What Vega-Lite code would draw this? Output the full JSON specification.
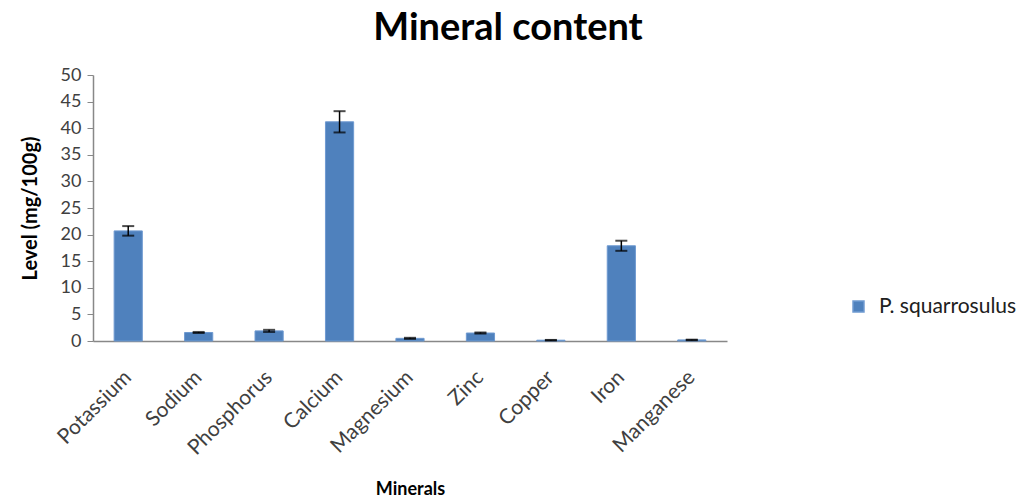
{
  "$schema": "https://vega.github.io/schema/vega-lite/v6.json",
  "autosize": {"type": "none"},
  "padding": {"left": 93, "top": 75, "right": 302, "bottom": 159},
  "width": 634,
  "height": 266,
  "background": "white",
  "config": {"font": "Lato", "view": {"stroke": null}},
  "title": {
    "text": "Mineral content",
    "fontSize": 38,
    "fontWeight": "bold",
    "font": "Lato",
    "color": "#000000",
    "anchor": "middle",
    "dx": 98,
    "offset": 18
  },
  "data": {
    "values": [
      {"mineral": "Potassium", "level": 20.7, "err": 0.9, "series": "P. squarrosulus"},
      {"mineral": "Sodium", "level": 1.6, "err": 0.1, "series": "P. squarrosulus"},
      {"mineral": "Phosphorus", "level": 1.9, "err": 0.2, "series": "P. squarrosulus"},
      {"mineral": "Calcium", "level": 41.2, "err": 2.0, "series": "P. squarrosulus"},
      {"mineral": "Magnesium", "level": 0.5, "err": 0.1, "series": "P. squarrosulus"},
      {"mineral": "Zinc", "level": 1.5, "err": 0.1, "series": "P. squarrosulus"},
      {"mineral": "Copper", "level": 0.15, "err": 0.05, "series": "P. squarrosulus"},
      {"mineral": "Iron", "level": 17.9, "err": 0.95, "series": "P. squarrosulus"},
      {"mineral": "Manganese", "level": 0.2, "err": 0.05, "series": "P. squarrosulus"}
    ]
  },
  "encoding": {
    "x": {
      "field": "mineral",
      "type": "nominal",
      "sort": null,
      "scale": {"paddingInner": 0.6, "paddingOuter": 0.3},
      "axis": {
        "title": "Minerals",
        "titleFontSize": 18,
        "titleFontWeight": "bold",
        "titleColor": "#000000",
        "titlePadding": 22,
        "labelAngle": -45,
        "labelAlign": "right",
        "labelBaseline": "middle",
        "labelFontSize": 21,
        "labelColor": "#404040",
        "labelPadding": 33,
        "ticks": false,
        "domainColor": "#888888",
        "domainWidth": 1.5
      }
    },
    "y": {
      "field": "level",
      "type": "quantitative",
      "scale": {"domain": [0, 50], "nice": false},
      "axis": {
        "title": "Level (mg/100g)",
        "titleFontSize": 20,
        "titleFontWeight": "bold",
        "titleColor": "#000000",
        "titlePadding": 20,
        "values": [0, 5, 10, 15, 20, 25, 30, 35, 40, 45, 50],
        "grid": false,
        "labelFontSize": 18,
        "labelColor": "#404040",
        "labelPadding": 6,
        "tickColor": "#888888",
        "tickSize": 6,
        "domainColor": "#888888",
        "domainWidth": 1.5
      }
    }
  },
  "layer": [
    {
      "mark": {"type": "bar", "stroke": "#6f9ad1", "strokeWidth": 1},
      "encoding": {
        "color": {
          "field": "series",
          "type": "nominal",
          "scale": {"range": ["#4f81bd"]},
          "legend": {
            "title": null,
            "orient": "none",
            "legendX": 755,
            "legendY": 221,
            "symbolType": "square",
            "symbolSize": 120,
            "labelFontSize": 21,
            "labelColor": "#202020",
            "labelOffset": 10
          }
        }
      }
    },
    {
      "mark": {"type": "errorbar", "ticks": {"size": 12, "thickness": 2, "color": "#000000"}, "rule": {"strokeWidth": 1.5, "color": "#000000"}},
      "encoding": {
        "yError": {"field": "err"}
      }
    }
  ]
}
